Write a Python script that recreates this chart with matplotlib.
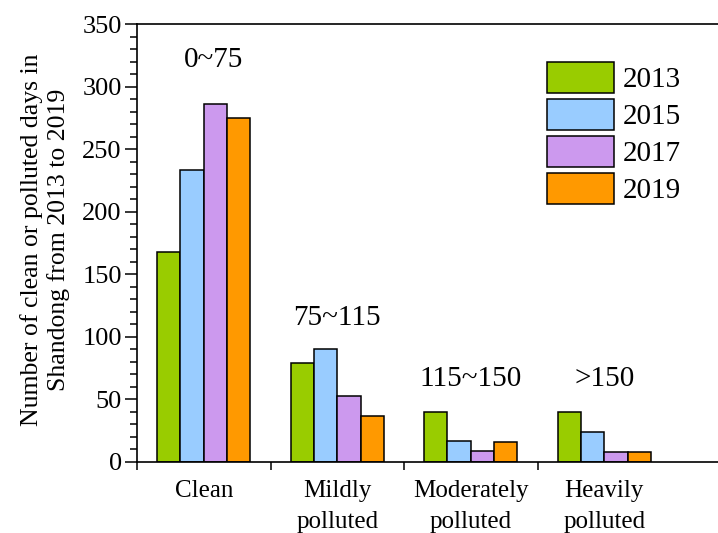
import numpy as np
import matplotlib.pyplot as plt
from matplotlib.patches import Patch
from matplotlib.ticker import MultipleLocator

plt.rcParams['font.family'] = ['Liberation Serif', 'DejaVu Serif']

# data
categories = ['Clean', 'Mildly\npolluted', 'Moderately\npolluted', 'Heavily\npolluted']
ranges = ['0~75', '75~115', '115~150', '>150']
years = ['2013', '2015', '2017', '2019']
v2013 = [168, 79, 40, 40]
v2015 = [233, 90, 17, 24]
v2017 = [286, 53, 9, 8]
v2019 = [275, 37, 16, 8]
colors = ['#99CC00', '#99CCFF', '#CC99EE', '#FF9900']

series = [v2013, v2015, v2017, v2019]

fig = plt.figure(figsize=(7.18, 5.33), dpi=100)
ax = fig.add_axes([137/718, 71/533, 581/718, 438/533])

x = np.arange(len(categories))
w = 0.175
for i, vals in enumerate(series):
    ax.bar(x + (i - 1.5) * w, vals, w, color=colors[i], edgecolor='black', linewidth=1.1)

ax.set_xlim(-0.5, -0.5 + 581/133.5)
ax.set_ylim(0, 350)

ax.yaxis.set_major_locator(MultipleLocator(50))
ax.yaxis.set_minor_locator(MultipleLocator(10))
ax.tick_params(axis='y', which='major', direction='out', length=9, width=1.1, labelsize=19, pad=2)
ax.tick_params(axis='y', which='minor', direction='out', length=5, width=1.1)

ax.set_xticks([-0.5, 0.5, 1.5, 2.5])
ax.set_xticklabels([])
ax.set_xticks(x, minor=True)
ax.set_xticklabels(categories, minor=True, fontsize=18, linespacing=1.5)
ax.tick_params(axis='x', which='major', direction='out', length=6, width=1.1)
ax.tick_params(axis='x', which='minor', length=0, pad=13)

for s in ['left', 'bottom', 'top']:
    ax.spines[s].set_linewidth(1.2)
ax.spines['right'].set_visible(False)

# range labels above the groups
label_pos = [(0.07, 321), (1.0, 115), (2.0, 66), (3.0, 66)]
for txt, (px, py) in zip(ranges, label_pos):
    ax.text(px, py, txt, ha='center', va='center', fontsize=21)

fig.text(45/718, 1 - 240/533,
         'Number of clean or polluted days in\nShandong from 2013 to 2019',
         rotation=90, ha='center', va='center', fontsize=18.5,
         multialignment='center', linespacing=1.2)

handles = [Patch(facecolor=c, edgecolor='black', linewidth=1.1) for c in colors]
ax.legend(handles, years, loc='upper left', bbox_to_anchor=(547/718, 1 - 62/533),
          bbox_transform=fig.transFigure, frameon=False, fontsize=21,
          handlelength=2.3, handleheight=1.25, handletextpad=0.3,
          labelspacing=0.2, borderpad=0, borderaxespad=0)

fig.savefig('out.png', dpi=100)
